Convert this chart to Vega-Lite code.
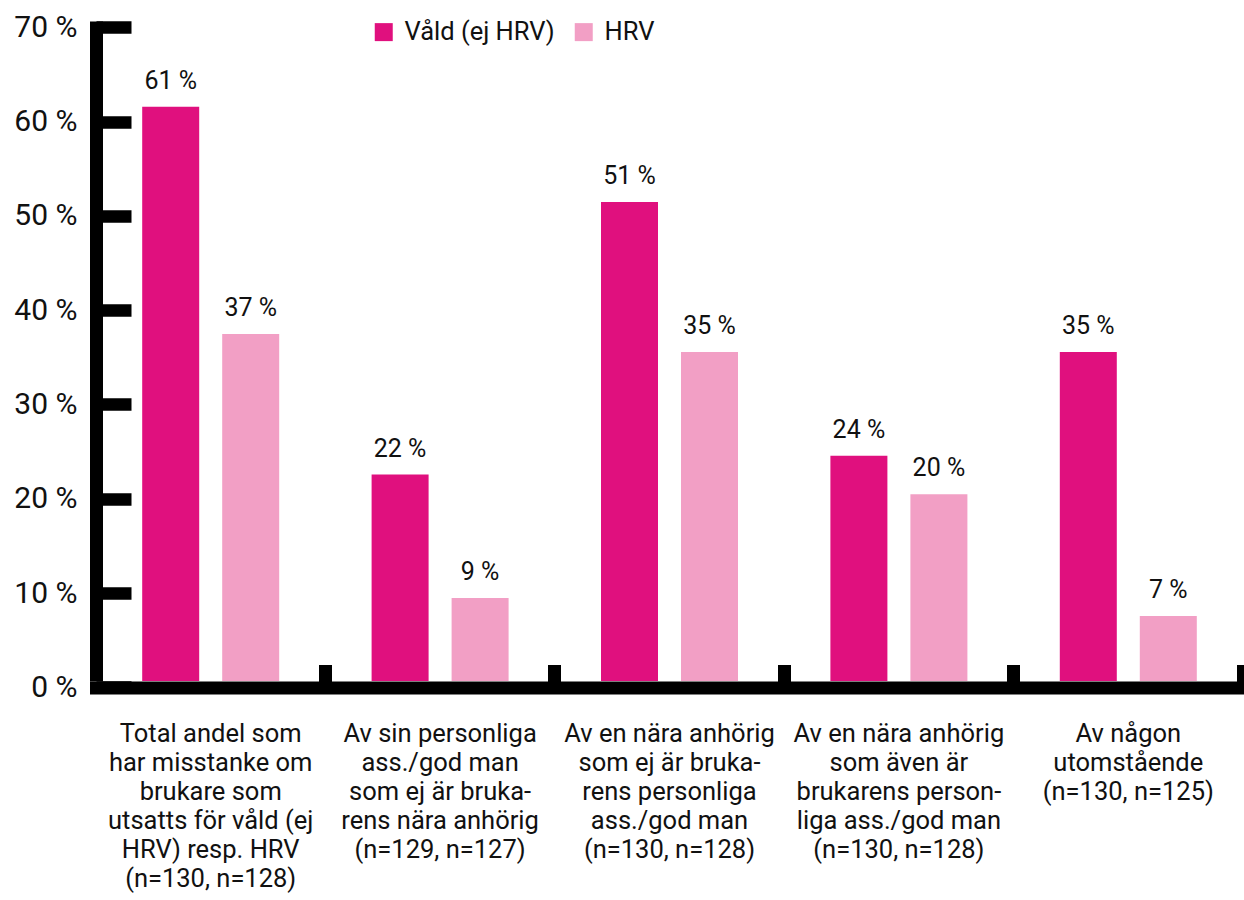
{
  "$schema": "https://vega.github.io/schema/vega-lite/v6.json",
  "width": 1147,
  "height": 660,
  "autosize": {"type": "none"},
  "padding": {"left": 96, "top": 21, "right": 1, "bottom": 219},
  "config": {"font": "Roboto", "view": {"stroke": null}},
  "data": {
    "values": [
      {"category": "Total andel som|har misstanke om|brukare som|utsatts för våld (ej|HRV) resp. HRV|(n=130, n=128)", "series": "Våld (ej HRV)", "value": 60.9, "label": "61 %"},
      {"category": "Total andel som|har misstanke om|brukare som|utsatts för våld (ej|HRV) resp. HRV|(n=130, n=128)", "series": "HRV", "value": 36.8, "label": "37 %"},
      {"category": "Av sin personliga|ass./god man|som ej är bruka-|rens nära anhörig|(n=129, n=127)", "series": "Våld (ej HRV)", "value": 21.9, "label": "22 %"},
      {"category": "Av sin personliga|ass./god man|som ej är bruka-|rens nära anhörig|(n=129, n=127)", "series": "HRV", "value": 8.8, "label": "9 %"},
      {"category": "Av en nära anhörig|som ej är bruka-|rens personliga|ass./god man|(n=130, n=128)", "series": "Våld (ej HRV)", "value": 50.8, "label": "51 %"},
      {"category": "Av en nära anhörig|som ej är bruka-|rens personliga|ass./god man|(n=130, n=128)", "series": "HRV", "value": 34.9, "label": "35 %"},
      {"category": "Av en nära anhörig|som även är|brukarens person-|liga ass./god man|(n=130, n=128)", "series": "Våld (ej HRV)", "value": 23.9, "label": "24 %"},
      {"category": "Av en nära anhörig|som även är|brukarens person-|liga ass./god man|(n=130, n=128)", "series": "HRV", "value": 19.8, "label": "20 %"},
      {"category": "Av någon|utomstående|(n=130, n=125)", "series": "Våld (ej HRV)", "value": 34.9, "label": "35 %"},
      {"category": "Av någon|utomstående|(n=130, n=125)", "series": "HRV", "value": 6.9, "label": "7 %"}
    ]
  },
  "encoding": {
    "x": {
      "field": "category",
      "type": "nominal",
      "sort": null,
      "scale": {"paddingInner": 0, "paddingOuter": 0},
      "axis": {
        "title": null,
        "orient": "bottom",
        "offset": 6.5,
        "domainColor": "black",
        "domainWidth": 13,
        "domainCap": "square",
        "bandPosition": 1,
        "tickColor": "black",
        "tickWidth": 13,
        "tickSize": -23,
        "tickCap": "butt",
        "labelAngle": 0,
        "labelAlign": "center",
        "labelBaseline": "top",
        "labelFontSize": 25.5,
        "labelLineHeight": 29,
        "labelColor": "#111111",
        "labelExpr": "split(datum.label, '|')",
        "labelLimit": 0,
        "labelPadding": 57,
        "labelOverlap": false
      }
    },
    "xOffset": {
      "field": "series",
      "type": "nominal",
      "sort": ["Våld (ej HRV)", "HRV"],
      "scale": {"paddingInner": 0.2875, "paddingOuter": 0.5775}
    },
    "y": {
      "field": "value",
      "type": "quantitative",
      "scale": {"domain": [0, 70], "nice": false},
      "axis": {
        "title": null,
        "values": [0, 10, 20, 30, 40, 50, 60, 70],
        "labelExpr": "datum.value + ' %'",
        "grid": false,
        "domainColor": "black",
        "domainWidth": 13,
        "domainCap": "butt",
        "tickColor": "black",
        "tickWidth": 12.6,
        "tickSize": -35,
        "tickOffset": 6.3,
        "tickCap": "butt",
        "labelFontSize": 30,
        "labelColor": "#111111",
        "labelPadding": 54
      }
    }
  },
  "layer": [
    {
      "mark": {"type": "bar"},
      "encoding": {
        "color": {
          "field": "series",
          "type": "nominal",
          "sort": ["Våld (ej HRV)", "HRV"],
          "scale": {"domain": ["Våld (ej HRV)", "HRV"], "range": ["#E0107E", "#F29FC5"]},
          "legend": {
            "title": null,
            "orient": "none",
            "legendX": 275,
            "legendY": -2,
            "direction": "horizontal",
            "symbolType": "square",
            "symbolSize": 324,
            "symbolStrokeWidth": 0,
            "labelFontSize": 25.5,
            "labelColor": "#111111",
            "labelOffset": 8,
            "columnPadding": 16,
            "padding": 0
          }
        }
      }
    },
    {
      "mark": {"type": "text", "dy": -18, "baseline": "alphabetic", "fontSize": 25, "color": "#111111"},
      "encoding": {"text": {"field": "label"}}
    }
  ]
}
